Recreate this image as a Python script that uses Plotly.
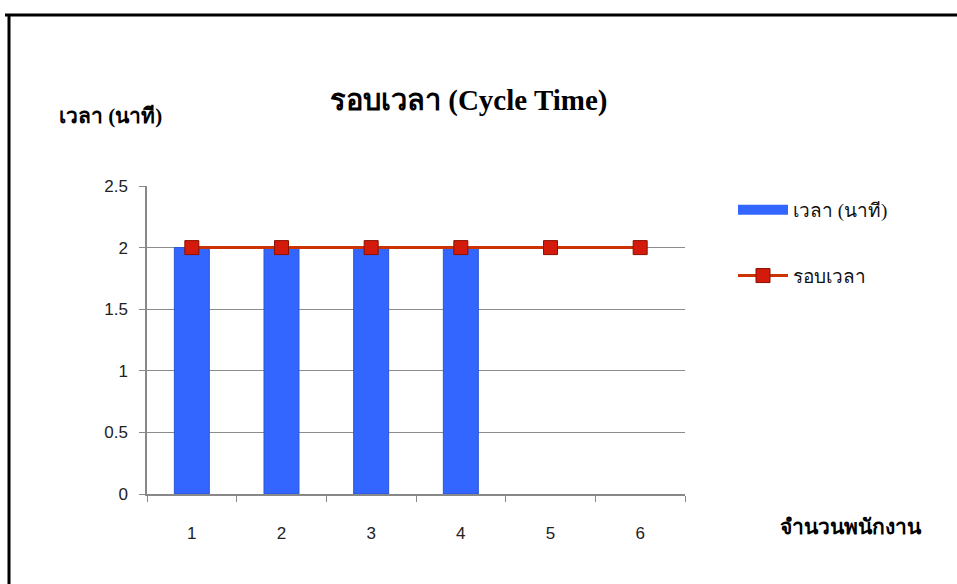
import plotly.graph_objects as go

# Data
workers = [1, 2, 3, 4, 5, 6]
minutes = [2, 2, 2, 2, None, None]
cycle_time = [2, 2, 2, 2, 2, 2]

W, H = 957, 584


def px(x):
    return x / W


def py(y):
    return 1 - y / H


BAR_BLUE = "#3366ff"

fig = go.Figure()

fig.add_trace(go.Bar(
    x=workers, y=minutes, name="เวลา (นาที)",
    width=0.39, showlegend=False, legendgroup="bar",
    marker=dict(color=BAR_BLUE, line=dict(color="#2a55d8", width=1)),
))

# wide legend swatch for the bar series
fig.add_trace(go.Scatter(
    x=[None], y=[None], name="เวลา (นาที)", legendgroup="bar",
    mode="lines", line=dict(color=BAR_BLUE, width=20),
))

fig.add_trace(go.Scatter(
    x=workers, y=cycle_time, name="รอบเวลา", legendgroup="cycle",
    mode="lines+markers",
    line=dict(color="#cc3300", width=3),
    marker=dict(symbol="square", size=14, color="#d41a0a",
                line=dict(color="#8a1000", width=1)),
))

axis_font = dict(family="Liberation Sans, Arial", size=17, color="#222222")
thai_serif = "Liberation Serif, Times New Roman, serif"

fig.update_layout(
    width=W, height=H,
    margin=dict(l=0, r=0, t=0, b=0, autoexpand=False),
    paper_bgcolor="white",
    plot_bgcolor="white",
    showlegend=True,
    legend=dict(
        x=px(733), y=py(191), xanchor="left", yanchor="top",
        font=dict(family=thai_serif, size=19, color="#111111"),
        tracegroupgap=38, itemwidth=50,
        bgcolor="rgba(0,0,0,0)",
    ),
    xaxis=dict(
        domain=[px(147), px(685)],
        range=[0.5, 6.5],
        tickvals=workers,
        ticks="",
        tickfont=axis_font,
        ticklabelstandoff=23,
        showgrid=False,
        showline=True, linecolor="#888888", linewidth=1.5,
        zeroline=False,
        minor=dict(tick0=0.5, dtick=1, ticks="outside", ticklen=6,
                   tickcolor="#888888", tickwidth=1, showgrid=False),
    ),
    yaxis=dict(
        domain=[py(494), py(186)],
        range=[0, 2.5],
        tickvals=[0, 0.5, 1, 1.5, 2, 2.5],
        ticktext=["0", "0.5", "1", "1.5", "2", "2.5"],
        ticks="outside", ticklen=6, tickcolor="#888888",
        tickfont=axis_font,
        ticklabelstandoff=8,
        showgrid=True, gridcolor="#8c8c8c", gridwidth=1,
        showline=True, linecolor="#888888", linewidth=1.5,
        zeroline=False,
    ),
    shapes=[
        dict(type="line", xref="paper", yref="paper",
             x0=px(5), x1=1, y0=py(15), y1=py(15),
             line=dict(color="black", width=3)),
        dict(type="line", xref="paper", yref="paper",
             x0=px(9), x1=px(9), y0=py(15), y1=0,
             line=dict(color="black", width=3)),
    ],
    annotations=[
        dict(text="<b>รอบเวลา (Cycle Time)</b>", xref="paper", yref="paper",
             x=px(468), y=py(100), xanchor="center", yanchor="middle",
             showarrow=False,
             font=dict(family=thai_serif, size=29, color="black")),
        dict(text="<b>เวลา (นาที)</b>", xref="paper", yref="paper",
             x=px(110), y=py(116), xanchor="center", yanchor="middle",
             showarrow=False,
             font=dict(family=thai_serif, size=21, color="black")),
        dict(text="<b>จำนวนพนักงาน</b>", xref="paper", yref="paper",
             x=px(851), y=py(527), xanchor="center", yanchor="middle",
             showarrow=False,
             font=dict(family=thai_serif, size=21, color="black")),
    ],
)

fig.write_html("out.html")
